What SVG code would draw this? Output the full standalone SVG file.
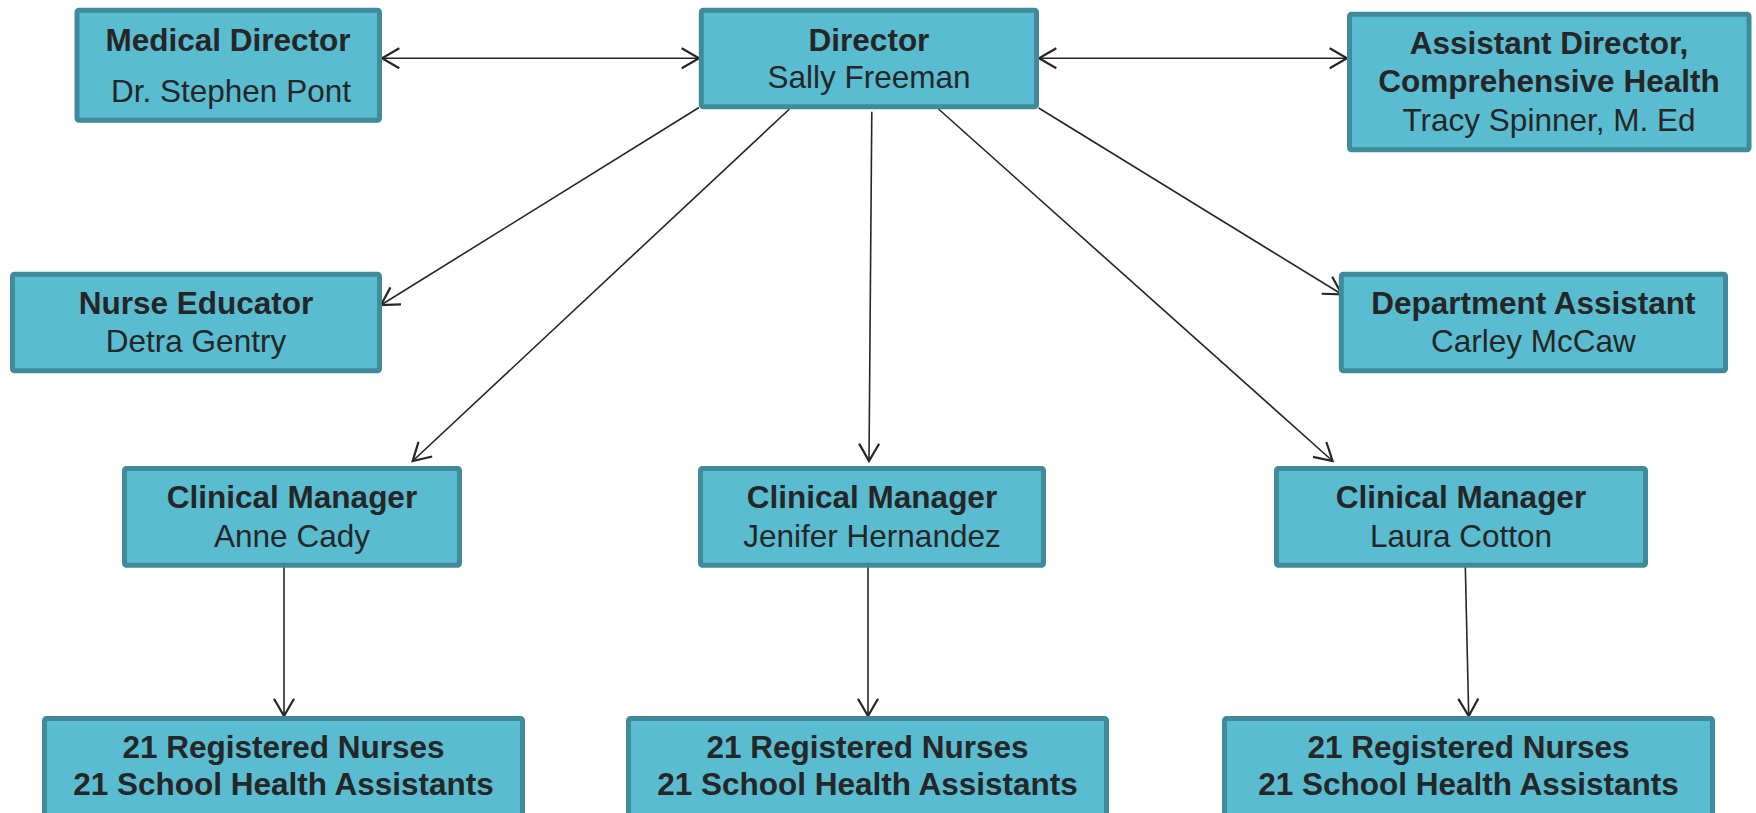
<svg xmlns="http://www.w3.org/2000/svg" width="1756" height="813" viewBox="0 0 1756 813">
<style>
.box{fill:#59BCD0;stroke:#3F8B9B;stroke-width:5;}
.t{font-family:"Liberation Sans",Arial,sans-serif;font-size:31.5px;fill:#262626;text-anchor:middle;}
.b{font-weight:bold;}
.c{fill:none;stroke:#262626;stroke-width:1.6;}
</style>
<defs>
<marker id="ah" markerUnits="userSpaceOnUse" markerWidth="30" markerHeight="30" refX="22" refY="12" orient="auto-start-reverse" overflow="visible">
<path d="M4.7 2 L22 12 L4.7 22" fill="none" stroke="#262626" stroke-width="2.2"/>
</marker>
</defs>
<rect width="1756" height="813" fill="#ffffff"/>
<g id="connectors">
<line class="c" x1="382" y1="58.3" x2="699" y2="58.3" marker-start="url(#ah)" marker-end="url(#ah)"/>
<line class="c" x1="1039" y1="58.3" x2="1347" y2="58.3" marker-start="url(#ah)" marker-end="url(#ah)"/>
<line class="c" x1="699" y1="107.5" x2="381" y2="305" marker-end="url(#ah)"/>
<line class="c" x1="789.5" y1="109" x2="412.7" y2="461" marker-end="url(#ah)"/>
<line class="c" x1="871.8" y1="111.7" x2="869" y2="461" marker-end="url(#ah)"/>
<line class="c" x1="938.5" y1="109" x2="1332.6" y2="461" marker-end="url(#ah)"/>
<line class="c" x1="1038.7" y1="108" x2="1341.7" y2="294.3" marker-end="url(#ah)"/>
<line class="c" x1="284" y1="566" x2="284" y2="716" marker-end="url(#ah)"/>
<line class="c" x1="868" y1="566" x2="868" y2="716" marker-end="url(#ah)"/>
<line class="c" x1="1465.3" y1="566" x2="1468.7" y2="716" marker-end="url(#ah)"/>
</g>
<g id="medical-director">
<rect class="box" x="77" y="10.2" width="302.5" height="110" rx="2"/>
<text class="t b" x="228" y="50.7">Medical Director</text>
<text class="t" x="231" y="101.7">Dr. Stephen Pont</text>
</g>
<g id="director">
<rect class="box" x="701.3" y="10.2" width="335.2" height="96.5" rx="2"/>
<text class="t b" x="869" y="50.7">Director</text>
<text class="t" x="869" y="88.3">Sally Freeman</text>
</g>
<g id="assistant-director">
<rect class="box" x="1349.5" y="14.2" width="399.5" height="135.6" rx="2"/>
<text class="t b" x="1549" y="54.3">Assistant Director,</text>
<text class="t b" x="1549" y="91.7">Comprehensive Health</text>
<text class="t" x="1549" y="130.7">Tracy Spinner, M. Ed</text>
</g>
<g id="nurse-educator">
<rect class="box" x="12.5" y="274.2" width="367" height="96.6" rx="2"/>
<text class="t b" x="196" y="314.3">Nurse Educator</text>
<text class="t" x="196" y="351.7">Detra Gentry</text>
</g>
<g id="department-assistant">
<rect class="box" x="1341.3" y="274.2" width="384.2" height="96.6" rx="2"/>
<text class="t b" x="1533.4" y="314.3">Department Assistant</text>
<text class="t" x="1533.4" y="351.7">Carley McCaw</text>
</g>
<g id="clinical-manager-cady">
<rect class="box" x="124.5" y="468.5" width="335" height="96.7" rx="2"/>
<text class="t b" x="292" y="507.7">Clinical Manager</text>
<text class="t" x="292" y="546.7">Anne Cady</text>
</g>
<g id="clinical-manager-hernandez">
<rect class="box" x="700.5" y="468.5" width="343" height="96.7" rx="2"/>
<text class="t b" x="872" y="507.7">Clinical Manager</text>
<text class="t" x="872" y="546.7">Jenifer Hernandez</text>
</g>
<g id="clinical-manager-cotton">
<rect class="box" x="1276.5" y="468.5" width="369" height="96.7" rx="2"/>
<text class="t b" x="1461" y="507.7">Clinical Manager</text>
<text class="t" x="1461" y="546.7">Laura Cotton</text>
</g>
<g id="staff-1">
<rect class="box" x="44.5" y="718.5" width="478" height="120" rx="2"/>
<text class="t b" x="283.5" y="757.7">21 Registered Nurses</text>
<text class="t b" x="283.5" y="795.3">21 School Health Assistants</text>
</g>
<g id="staff-2">
<rect class="box" x="628.5" y="718.5" width="478" height="120" rx="2"/>
<text class="t b" x="867.5" y="757.7">21 Registered Nurses</text>
<text class="t b" x="867.5" y="795.3">21 School Health Assistants</text>
</g>
<g id="staff-3">
<rect class="box" x="1224.5" y="718.5" width="488" height="120" rx="2"/>
<text class="t b" x="1468.5" y="757.7">21 Registered Nurses</text>
<text class="t b" x="1468.5" y="795.3">21 School Health Assistants</text>
</g>
</svg>
